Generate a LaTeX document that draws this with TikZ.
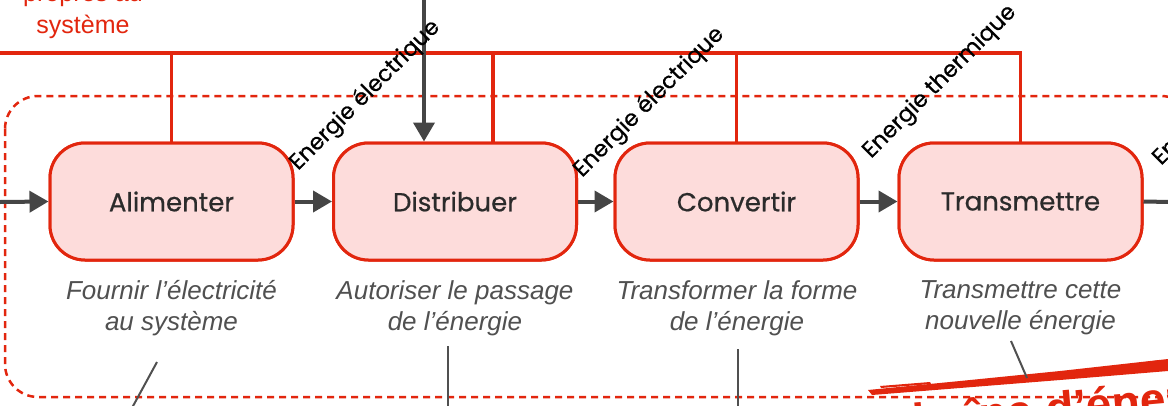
\documentclass[tikz,border=0pt]{standalone}
\usepackage{fontspec}
\setmainfont{Liberation Sans}
\newfontfamily\geo{Poppins}[FakeBold=0.6]
\usetikzlibrary{arrows.meta}
\definecolor{cred}{HTML}{E2260E}
\definecolor{cpink}{HTML}{FDDCDB}
\definecolor{cgrayar}{HTML}{454545}
\definecolor{cgraytx}{HTML}{505050}
\definecolor{cdark}{HTML}{2B2B2B}
\tikzset{
  redline/.style={draw=cred, line width=3.5pt},
  dashbox/.style={draw=cred, line width=2.5pt, dash pattern=on 7pt off 5pt, rounded corners=33pt},
  fbox/.style={draw=cred, fill=cpink, line width=3pt, rounded corners=35pt,
    minimum width=243pt, minimum height=117pt, inner sep=0pt,
    text=cdark, font=\geo\fontsize{26}{30}\selectfont},
  garrow/.style={draw=cgrayar, line width=4pt, -{Triangle[length=19pt,width=21pt]}},
  gline/.style={draw=cgrayar, line width=4pt},
  elabel/.style={rotate=45, anchor=base west, inner sep=0pt, text=black,
    font=\geo\fontsize{22.5}{26}\selectfont},
  desc/.style={align=center, inner sep=0pt, text=cgraytx,
    font=\itshape\fontsize{26}{31}\selectfont},
  leader/.style={draw=cgraytx, line width=2pt},
  toptext/.style={align=center, inner sep=0pt, text=cred, font=\fontsize{25}{29}\selectfont}
}
\begin{document}
\begin{tikzpicture}[x=1pt,y=-1pt]
\useasboundingbox (0,0) rectangle (1168,405);
\clip (0,0) rectangle (1168,405);

% top-left text (cut off)
\node[toptext, anchor=base] (t1) at (83,1) {propres au};
\node[toptext, anchor=base] (t2) at (83,33) {système};

% boxes (placed first to get anchors)
\node[fbox] (alim) at (171.5,201.5) {Alimenter};
\node[fbox] (dist) at (455,201.5) {Distribuer};
\node[fbox] (conv) at (736.5,201.5) {Convertir};
\node[fbox] (trans) at (1020.5,201.5) {Transmettre};

% red supply lines
\coordinate (lt) at (0,53);
\coordinate (rc) at (1020.5,53);
\coordinate (vd) at (493,53);
\draw[redline] (lt) -- (rc) -- (trans.north);
\draw[redline] (alim.north |- lt) -- (alim.north);
\draw[redline] (vd) -- (vd |- dist.north);
\draw[redline] (conv.north |- lt) -- (conv.north);

% dashed boundary
\draw[dashbox] (5,96) rectangle (1194,397);

% redraw boxes on top of the lines
\node[fbox] at (alim) {Alimenter};
\node[fbox] at (dist) {Distribuer};
\node[fbox] at (conv) {Convertir};
\node[fbox] at (trans) {Transmettre};

% grey energy arrows
\coordinate (in) at (0,202);
\coordinate (out) at (1170,202);
\coordinate (top) at (424,0);
\draw[garrow] (in) -- (alim.west);
\draw[garrow] (alim.east) -- (dist.west);
\draw[garrow] (dist.east) -- (conv.west);
\draw[garrow] (conv.east) -- (trans.west);
\draw[gline] (trans.east) -- (out);
\draw[garrow] (top) -- (top |- dist.north);

% rotated labels
\node[elabel] (l1) at (298,171) {Energie électrique};
\node[elabel] (l2) at (582,178) {Energie électrique};
\node[elabel] (l3) at (871,159) {Energie thermique};
\node[elabel] (l4) at (1161,166) {Energie mécanique};

% descriptions
\node[desc] (d1) at (171.5,308) {Fournir l’électricité\\au système};
\node[desc] (d2) at (455,308) {Autoriser le passage\\de l’énergie};
\node[desc] (d3) at (737,308) {Transformer la forme\\de l’énergie};
\node[desc] (d4) at (1020.5,308) {Transmettre cette\\nouvelle énergie};

% brush stroke and title (cut off)
\fill[cred] (868,390) -- (960,381) -- (1060,371) -- (1168,359) -- (1168,371)
  -- (1060,380) -- (960,388) -- (872,395) -- cycle;
\fill[cred] (880,386) -- (930,382) -- (931,384) -- (881,388) -- cycle;
\fill[cred] (1090,370) -- (1160,360) -- (1160,362) -- (1091,372) -- cycle;
\node[rotate=5, anchor=base west, inner sep=0pt, text=cred,
  font=\bfseries\fontsize{46}{50}\selectfont] (chain) at (889,439) {chaîne d’énergie};

% leader lines
\coordinate (e1a) at (157,362); \coordinate (e1b) at (120,430);
\coordinate (e2a) at (448,346); \coordinate (e2b) at (448,430);
\coordinate (e3a) at (738,349); \coordinate (e3b) at (738,430);
\coordinate (e4a) at (1011,341); \coordinate (e4b) at (1027,378);
\draw[leader] (e1a) -- (e1b);
\draw[leader] (e2a) -- (e2b);
\draw[leader] (e3a) -- (e3b);
\draw[leader] (e4a) -- (e4b);
\end{tikzpicture}
\end{document}
